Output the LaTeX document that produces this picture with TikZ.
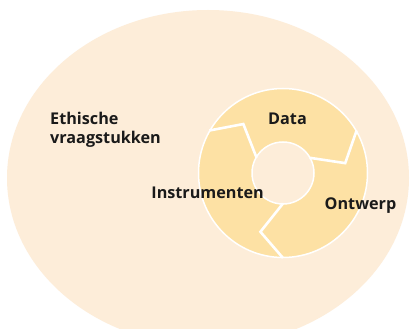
\documentclass[tikz,border=0pt]{standalone}
\usepackage{fontspec}
\setmainfont{Open Sans}
\usetikzlibrary{calc}
\definecolor{peach}{HTML}{FDEDD9}
\definecolor{ringy}{HTML}{FDE1A4}
\definecolor{ink}{HTML}{1A1A1A}
\begin{document}
\begin{tikzpicture}[x=1pt,y=1pt,
  lbl/.style={anchor=base west, inner sep=0pt, text=ink, font=\fontsize{16.2}{19.7}\selectfont\bfseries, align=left},
  gap/.style={draw=white, line width=2.6pt, line join=miter},
  rim/.style={draw=white, line width=1.5pt}]
\useasboundingbox (0,0) rectangle (410,329);
\fill[white] (0,0) rectangle (410,329);
\begin{scope}
\clip (0,0) rectangle (410,329);
\fill[peach] (208,151) ellipse [x radius=201, y radius=168];
\end{scope}
\coordinate (c) at (283,156);
% ring
\fill[ringy, even odd rule] (c) circle (84.5) (c) circle (31);
\draw[rim] (c) circle (84.5);
\draw[rim] (c) circle (31);
\foreach \a in {150,30,-90}{
  \draw[gap] ($(c)+(\a:85)$) -- ($(c)+(\a-21:63)$) -- ($(c)+(\a:30.5)$);
}
\node[lbl] (eth) at (50,185) {Ethische\\vraagstukken};
\node[lbl] (ins) at (151.2,130.7) {Instrumenten};
\node[lbl] (ont) at (324.5,119) {Ontwerp};
\node[lbl] (dat) at (268,204.7) {Data};
\end{tikzpicture}
\end{document}
